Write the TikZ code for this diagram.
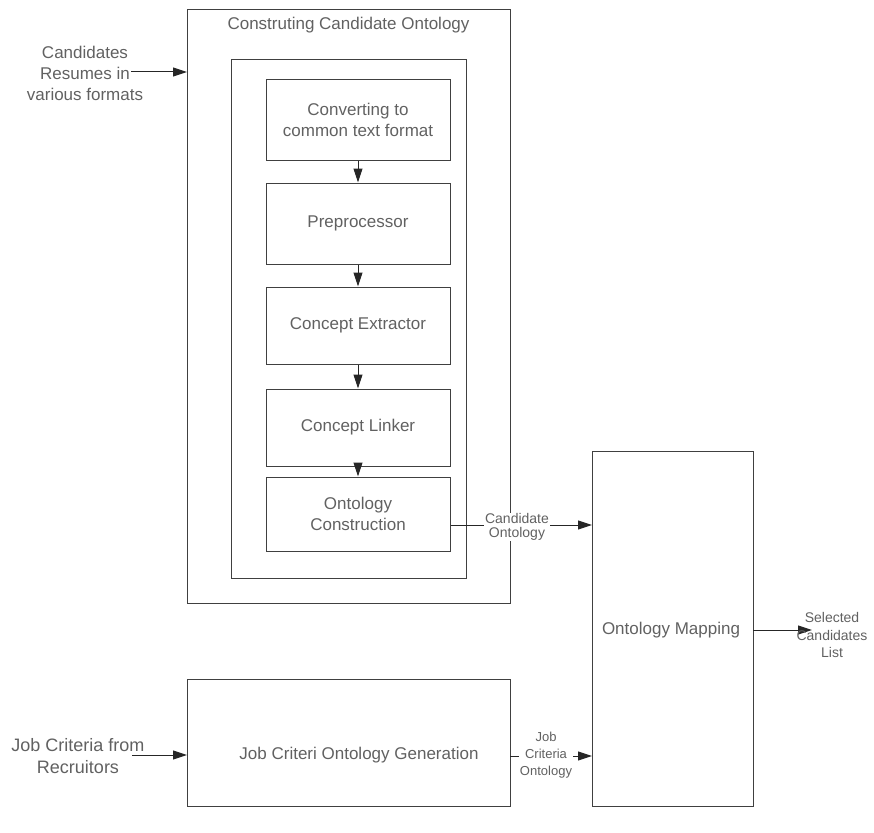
\documentclass[tikz,border=0pt]{standalone}
\usepackage{fontspec}
\setmainfont{Liberation Sans}
\usetikzlibrary{arrows.meta}
\begin{document}
\begin{tikzpicture}[x=1pt,y=-1pt,
  every node/.style={font=\fontsize{17}{21}\selectfont, text=black!62},
  frame/.style={draw=black!75, line width=1pt},
  stepbox/.style={draw=black!75, line width=1pt, minimum width=184pt, align=center},
  flow/.style={draw=black!85, line width=1pt, -{Triangle[length=14pt,width=9pt]}},
  tag/.style={align=center, fill=white, inner sep=1pt},
  side/.style={align=center}]
\useasboundingbox (0,0) rectangle (874,832);
% outer and inner frames
\draw[frame] (187,10) rectangle (510,603);
\node at (348.5,25) {Construting Candidate Ontology};
\draw[frame] (231,60) rectangle (466,578);
% processing chain
\node[stepbox, minimum height=80pt] (s1) at (358,120) {Converting to\\common text format};
\node[stepbox, minimum height=81pt] (s2) at (358,223.5) {Preprocessor};
\node[stepbox, minimum height=77pt] (s3) at (358,325.5) {Concept Extractor};
\node[stepbox, minimum height=77pt] (s4) at (358,427.5) {Concept Linker};
\node[stepbox, minimum height=74pt] (s5) at (358,514) {Ontology\\Construction};
\draw[flow] (s1) -- (s2);
\draw[flow] (s2) -- (s3);
\draw[flow] (s3) -- (s4);
\draw[flow] (s4) -- (s5);
% mapping and job criteria blocks
\draw[frame] (592,451) rectangle (753,806);
\node (map) at (671,630) {Ontology Mapping};
\draw[frame] (187,679) rectangle (510,806);
\node (job) at (359,755) {Job Criteri Ontology Generation};
\coordinate (mapw) at (592,630);
\coordinate (mape) at (753,630);
\coordinate (jobw) at (187,755);
% inputs
\node[side] (res) at (85,73) {Candidates\\Resumes in\\various formats};
\coordinate (resend) at (131,72);
\draw[flow] (resend) -- (187,72);
\node[side, font=\fontsize{18}{22}\selectfont] (rec) at (78,756) {Job Criteria from\\Recruitors};
\coordinate (recend) at (132,755);
\draw[flow] (recend) -- (jobw |- recend);
% links to the mapping block
\coordinate (co) at (s5.east |- 0,525);
\draw[flow] (co) -- (mapw |- co);
\node[tag, font=\fontsize{14}{13.5}\selectfont] at (517,527) {Candidate\\Ontology};
\coordinate (jo) at (510,756);
\draw[flow] (jo) -- (mapw |- jo);
\node[tag, font=\fontsize{13}{17}\selectfont] at (546,755) {Job\\Criteria\\Ontology};
% output
\draw[flow] (mape) -- (812,630);
\node[side, font=\fontsize{14}{17.5}\selectfont] at (832,635) {Selected\\Candidates\\List};
\end{tikzpicture}
\end{document}
